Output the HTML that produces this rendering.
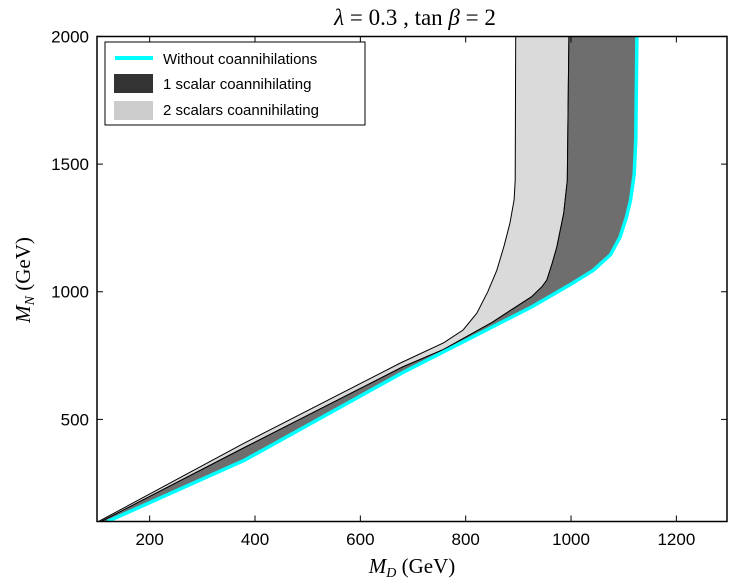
<!DOCTYPE html>
<html><head><meta charset="utf-8"><style>
body{margin:0;background:#fff;}
svg text{font-family:"Liberation Sans",sans-serif;}
.serif{font-family:"Liberation Serif",serif;}
</style></head><body>
<svg id="chart" width="752" height="580" xmlns="http://www.w3.org/2000/svg">
<defs><clipPath id="clip"><rect x="97" y="36.5" width="630" height="485"/></clipPath></defs>
<g id="bands" clip-path="url(#clip)"></g>
<rect x="97" y="36.5" width="630" height="485" fill="none" stroke="#000" stroke-width="1.5"/>
<g id="axes"></g>
<text x="415" y="25" text-anchor="middle" class="serif" font-size="23"><tspan font-style="italic">λ</tspan> = 0.3 ,  tan <tspan font-style="italic">β</tspan> = 2</text>
<text x="412" y="573" text-anchor="middle" class="serif" font-size="21"><tspan font-style="italic">M</tspan><tspan font-style="italic" font-size="14" dy="4">D</tspan><tspan dy="-4"> (GeV)</tspan></text>
<text transform="translate(30,280) rotate(-90)" text-anchor="middle" class="serif" font-size="21"><tspan font-style="italic">M</tspan><tspan font-style="italic" font-size="14" dy="4">N</tspan><tspan dy="-4"> (GeV)</tspan></text>
<g>
<rect x="105" y="42" width="260" height="83" fill="#fff" stroke="#000" stroke-width="1"/>
<line x1="115" y1="58" x2="153" y2="58" stroke="#00ffff" stroke-width="4"/>
<text x="163" y="64" font-size="15">Without coannihilations</text>
<rect x="114" y="74" width="39" height="19" fill="#333"/>
<text x="163" y="89" font-size="15">1 scalar coannihilating</text>
<rect x="114" y="101" width="39" height="19" fill="#ccc"/>
<text x="163" y="115" font-size="15">2 scalars coannihilating</text>
</g>
</svg>
<script>
const xTicks=[200,400,600,800,1000,1200];
const yTicks=[500,1000,1500,2000];
const cyanLine=[[120,100],[380,340],[680,683],[925,940],[1000,1030],[1042,1084],[1075,1145],[1093,1214],[1105,1290],[1113,1358],[1120,1460],[1123,1600],[1125,2000]];
const darkUpper=[[108,100],[380,390],[680,705],[758,774],[850,880],[925,980],[945,1020],[954,1045],[964,1110],[973,1175],[986,1307],[993,1436],[996,2000]];
const lightUpper=[[103,100],[380,408],[676,721],[758,800],[795,850],[821,916],[842,1000],[859,1084],[873,1180],[884,1268],[892,1360],[894,1436],[895,2000]];
const X=v=>97+(v-100)*0.5267;
const Y=v=>521.5-(v-100)*0.2553;
const ns="http://www.w3.org/2000/svg";
const bands=document.getElementById('bands');
const axes=document.getElementById('axes');
function pts(a){return a.map(p=>X(p[0]).toFixed(1)+','+Y(p[1]).toFixed(1));}
function band(upper,lower,fill,name){
  const el=document.createElementNS(ns,'polygon');
  el.setAttribute('points',pts(upper).concat(pts(lower.slice().reverse())).join(' '));
  el.setAttribute('fill',fill);el.setAttribute('stroke','#000');el.setAttribute('stroke-width','1');
  
  
  bands.appendChild(el);
}
band(lightUpper,darkUpper,'#dadada','band-2-scalars');
band(darkUpper,cyanLine,'#6e6e6e','band-1-scalar');
const cl=document.createElementNS(ns,'polyline');
cl.setAttribute('points',pts(cyanLine).join(' '));
cl.setAttribute('fill','none');cl.setAttribute('stroke','#00ffff');cl.setAttribute('stroke-width','3.5');


bands.appendChild(cl);
xTicks.forEach(v=>{
  const x=X(v);
  const t=document.createElementNS(ns,'path');
  t.setAttribute('d',`M${x},521.5v-6M${x},36.5v6`);t.setAttribute('stroke','#000');
  
  
  axes.appendChild(t);
  const l=document.createElementNS(ns,'text');
  l.setAttribute('x',x);l.setAttribute('y',545);l.setAttribute('text-anchor','middle');l.setAttribute('font-size','17');
  l.textContent=v;
  
  
  axes.appendChild(l);
});
yTicks.forEach(v=>{
  const y=Y(v);
  const t=document.createElementNS(ns,'path');
  t.setAttribute('d',`M97,${y}h6M727,${y}h-6`);t.setAttribute('stroke','#000');
  
  
  axes.appendChild(t);
  const l=document.createElementNS(ns,'text');
  l.setAttribute('x',89);l.setAttribute('y',y+6);l.setAttribute('text-anchor','end');l.setAttribute('font-size','17');
  l.textContent=v;
  
  
  axes.appendChild(l);
});
</script>
</body></html>
